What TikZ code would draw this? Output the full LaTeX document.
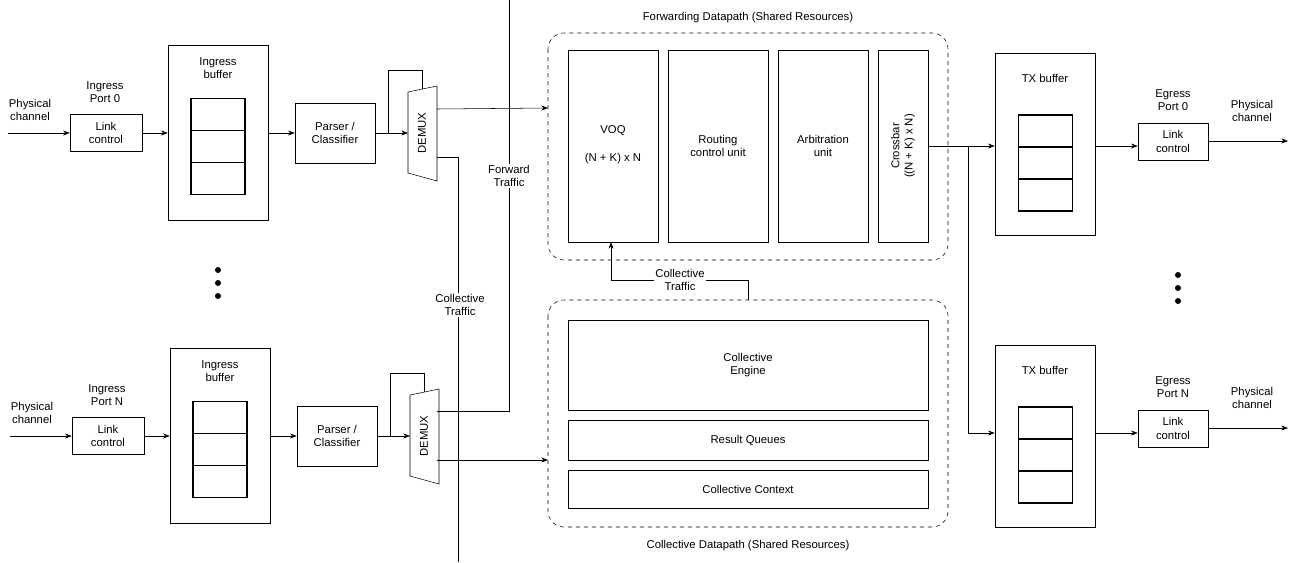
\documentclass[tikz,border=0pt]{standalone}
\usepackage{fontspec}
\setmainfont{Liberation Sans}
\usetikzlibrary{arrows.meta,positioning}
\tikzset{
  blk/.style={draw,thin,minimum width=#1,align=center,font=\fontsize{8.5}{10}\selectfont},
  lbl/.style={align=center,font=\fontsize{8.5}{10}\selectfont},
  arr/.style={-{Stealth[length=5pt]},thin},
  cell/.style={draw,line width=1.1pt,minimum width=40.5pt,minimum height=24pt,inner sep=0pt},
  grp/.style={draw,dashed,rounded corners=12pt,thin},
  dot/.style={fill,circle,inner sep=0pt,minimum size=4.5pt}
}
\begin{document}
\begin{tikzpicture}[x=0.75pt,y=-0.75pt]
\useasboundingbox (0,0) rectangle (1297,562);
%%%%%%%%%%%%%%%% ingress ports 0 and N
\foreach \dy/\dx/\p in {0/0/0,303/2/N}{
\begin{scope}[shift={(\dx,\dy)}]
\node[lbl] (phy\p) at (30,110) {Physical\\channel};
\coordinate (in\p) at (8,133);
\node[blk=54pt,minimum height=28pt] (lnk\p) at (106,133) {Link\\control};
\node[lbl] at (105,92) {Ingress\\Port \p};
\node[draw,minimum width=75pt,minimum height=131pt] (ib\p) at (218,132.5) {};
\node[lbl] at (218,68) {Ingress\\buffer};
\node[cell] (c\p a) at (218,114.5) {};
\node[cell,below=-1.1pt of c\p a] (c\p b) {};
\node[cell,below=-1.1pt of c\p b] (c\p c) {};
\node[blk=60pt,minimum height=45pt] (par\p) at (335,133) {Parser /\\Classifier};
\draw[arr] (in\p) -- (lnk\p);
\draw[arr] (lnk\p) -- (ib\p.west |- lnk\p);
\draw[arr] (ib\p.east |- lnk\p) -- (par\p);
%%%%%%%%%%%%%%%% demux
\draw (408,92) -- (437,86) -- (437,181) -- (408,173) -- cycle;
\coordinate (dmx\p) at (408,133);
\node[lbl,rotate=90] at (422,133) {DEMUX};
\draw[arr] (par\p) -- (dmx\p);
\draw (388,133) -- (388,70) -- (422,70) -- (422,89);
\end{scope}
}
\foreach \y in {270,283,296} \node[dot] at (218,\y) {};
%%%%%%%%%%%%%%%% forwarding datapath
\draw[grp] (548,33) rectangle (948,260);
\node[lbl] (fwdT) at (748,18) {Forwarding Datapath (Shared Resources)};
\node[blk=67.5pt,minimum height=144pt] (voq) at (613,146) {};
\node[lbl] at (613,131) {VOQ};
\node[lbl] at (613,159) {(N + K) x N};
\node[blk=75pt,minimum height=144pt] (rcu) at (718,146) {Routing\\control unit};
\node[blk=67.5pt,minimum height=144pt] (arb) at (823,146) {Arbitration\\unit};
\node[blk=37.5pt,minimum height=144pt] (xbar) at (903,146) {};
\node[lbl,rotate=90] at (903,146) {Crossbar\\((N + K) x N)};
%%%%%%%%%%%%%%%% collective datapath
\draw[grp] (548,300) rectangle (948,527);
\node[lbl] (colT) at (748,546) {Collective Datapath (Shared Resources)};
\node[blk=270pt,minimum height=67.5pt] (ce) at (748,365) {Collective\\Engine};
\node[blk=270pt,minimum height=30pt] (rq) at (748,440) {Result Queues};
\node[blk=270pt,minimum height=28.5pt] (cc) at (748,489) {Collective Context};
%%%%%%%%%%%%%%%% traffic lines
\draw[arr] (437,109) -- (548,108);
\draw[arr] (437,460) -- (548,460);
\draw (437,157) -- (458,157) -- (458,562);
\draw (437,411) -- (509,411) -- (509,0);
\node[lbl,fill=white,inner sep=1pt] at (509,176) {Forward\\Traffic};
\node[lbl,fill=white,inner sep=1pt] at (460,305) {Collective\\Traffic};
\draw[arr] (748,300) -- (748,280) -- (611,280) -- (611,242);
\node[lbl,fill=white,inner sep=1pt] at (680,280) {Collective\\Traffic};
%%%%%%%%%%%%%%%% egress ports 0 and N
\foreach \y/\p in {53/0,345/N}{
\node[draw,minimum width=75pt,minimum height=136.5pt] (tx\p) at (1045,\y+91) {};
\node[lbl] at (1045,\y+25) {TX buffer};
\node[cell] (t\p a) at (1045.5,\y+78) {};
\node[cell,below=-1.1pt of t\p a] (t\p b) {};
\node[cell,below=-1.1pt of t\p b] (t\p c) {};
}
\coordinate (br0) at (968,146);
\coordinate (brN) at (968,433);
\draw[arr] (928,146) -- (tx0.west |- br0);
\draw[arr] (br0) -- (brN) -- (txN.west |- brN);
\foreach \y/\p in {146/0,433/N}{
\node[blk=52.5pt,minimum height=28pt] (elk\p) at (1173,\y-4.5) {Link\\control};
\node[lbl] at (1173,\y-46) {Egress\\Port \p};
\node[lbl] at (1252,\y-35) {Physical\\channel};
\coordinate (out\p) at (1288,\y-5);
\draw[arr] (tx\p.east |- 0,\y) -- (elk\p.west |- 0,\y);
\draw[arr] (elk\p.east |- out\p) -- (out\p);
}
\foreach \y in {275,288,301} \node[dot] at (1178,\y) {};
\end{tikzpicture}
\end{document}
